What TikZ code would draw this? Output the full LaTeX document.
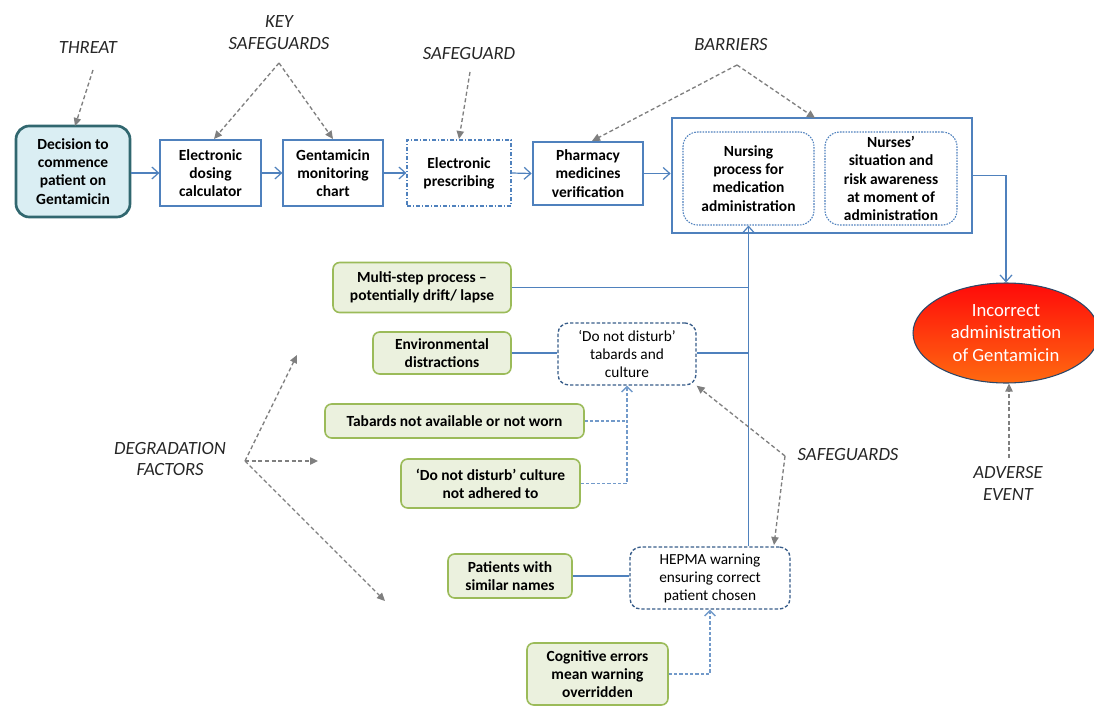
\documentclass[tikz,border=0pt]{standalone}
\usepackage{fontspec}
\setmainfont{Carlito}
\usetikzlibrary{arrows.meta,shapes.geometric,calc}
\definecolor{lblue}{HTML}{4F81BD}
\definecolor{dblue}{HTML}{385D8A}
\definecolor{gbord}{HTML}{9BBB59}
\definecolor{gfill}{HTML}{EBF1DE}
\definecolor{tealb}{HTML}{31676F}
\definecolor{tfill}{HTML}{DAEEF3}
\definecolor{anno}{HTML}{7F7F7F}
\definecolor{labtxt}{HTML}{262626}
\definecolor{ired}{HTML}{FF0A0A}
\definecolor{iorange}{HTML}{FF6A10}
\begin{document}
\begin{tikzpicture}[x=0.75pt,y=-0.75pt,
  sz/.style 2 args={minimum width=#1*0.75pt, minimum height=#2*0.75pt},
  bfont/.style={font=\bfseries\fontsize{11.6}{13.6}\selectfont},
  rfont/.style={font=\fontsize{11.5}{13.5}\selectfont},
  bx/.style={draw=lblue, line width=0.9pt, align=center, inner sep=2pt, fill=white, bfont},
  thickbx/.style={bx, line width=2pt},
  dashdotbx/.style={bx, dash pattern=on 3pt off 1.5pt on 0.8pt off 1.5pt},
  innerbx/.style={draw=lblue, line width=0.8pt, dash pattern=on 1.2pt off 0.9pt, rounded corners=11pt, align=center, inner sep=2pt, bfont},
  sgbx/.style={draw=dblue, line width=1pt, dash pattern=on 2.5pt off 1.5pt, rounded corners=8pt, align=center, inner sep=2pt, fill=white, rfont},
  gbx/.style={draw=gbord, line width=1.2pt, fill=gfill, rounded corners=5pt, align=center, inner sep=2pt, bfont},
  decbx/.style={draw=tealb, fill=tfill, line width=2pt, rounded corners=10pt, align=center, inner sep=2pt, bfont},
  lab/.style={font=\itshape\fontsize{14}{16.5}\selectfont, text=labtxt, align=center, inner sep=1pt},
  conn/.style={draw=lblue, line width=0.9pt},
  carrow/.style={conn, -{Straight Barb[length=5pt,width=9pt,line width=0.9pt]}},
  dconn/.style={draw=lblue!80, line width=1pt, dash pattern=on 2.5pt off 1.5pt},
  darrow/.style={dconn, -{Straight Barb[length=4pt,width=8pt,line width=1pt]}},
  ann/.style={draw=anno, line width=1pt, dash pattern=on 3pt off 2pt, -{Triangle[length=6pt,width=5.5pt]}},
]
\useasboundingbox (0,0) rectangle (1094,706);

% top row
\node[decbx, sz={114}{91}] (dec) at (73,171.5) {Decision to\\commence\\patient on\\Gentamicin};
\node[bx, sz={101}{66}] (calc) at (210.5,173) {Electronic\\dosing\\calculator};
\node[bx, sz={100}{66}] (chart) at (333,173) {Gentamicin\\monitoring\\chart};
\node[dashdotbx, sz={104}{66}] (epres) at (459,173) {Electronic\\prescribing};
\node[thickbx, sz={110}{63}] (pharm) at (588,173.5) {Pharmacy\\medicines\\verification};
\node[thickbx, sz={300}{115}] (big) at (822,175.5) {};
\node[innerbx, sz={131}{93}] (nurs) at (748.5,178.5) {Nursing\\process for\\medication\\administration};
\node[innerbx, sz={132}{93}] (aware) at (891,178.5) {Nurses'\\situation and\\risk awareness\\at moment of\\administration};

% adverse event
\node[ellipse, draw=black!45!lblue, line width=0.8pt, top color=ired, bottom color=iorange, sz={186}{100}, align=center, text=white, font=\fontsize{14}{17}\selectfont, inner sep=0pt] (inc) at (1006,333) {Incorrect\\administration\\of Gentamicin};

% degradation / safeguards
\node[gbx, sz={178}{50}] (multi) at (422,287.5) {Multi-step process –\\potentially drift/ lapse};
\node[gbx, sz={138}{42}] (env) at (442,353) {Environmental\\distractions};
\node[sgbx, sz={138}{62}] (dnd) at (627,354) {‘Do not disturb’\\tabards and\\culture};
\node[gbx, sz={259}{34}] (tab) at (454.5,421) {Tabards not available or not worn};
\node[gbx, sz={179}{49}] (cult) at (490.5,483.5) {‘Do not disturb’ culture\\not adhered to};
\node[gbx, sz={124}{44}] (pat) at (510,576) {Patients with\\similar names};
\node[sgbx, sz={160}{62}] (hepma) at (710,578) {HEPMA warning\\ensuring correct\\patient chosen};
\node[gbx, sz={141}{62}] (cog) at (597.5,674) {Cognitive errors\\mean warning\\overridden};

% main flow
\draw[carrow] (dec.east |- calc.west) -- (calc.west);
\draw[carrow] (calc.east) -- (chart.west);
\draw[carrow] (chart.east) -- (epres.west);
\draw[carrow] (epres.east) -- (pharm.west);
\draw[carrow] (pharm.east) -- (big.west |- pharm.east);
\draw[carrow] (big.east) -| (inc.north);

% lines to nursing
\draw[carrow] (hepma.north -| nurs.south) -- (nurs.south);
\draw[conn] (multi.east) -- (multi.east -| nurs.south);
\draw[conn] (env.east) -- (dnd.west |- env.east);
\draw[conn] (dnd.east |- env.east) -- (env.east -| nurs.south);
\draw[conn] (pat.east) -- (hepma.west |- pat.east);

% dashed degradation links
\draw[dconn] (tab.east) -- (tab.east -| dnd.south);
\draw[darrow] (cult.east) -| (dnd.south);
\draw[darrow] (cog.east) -| (hepma.south);

% labels and annotation arrows
\node[lab] (threat) at (88,48) {THREAT};
\coordinate (threatA) at (93,70);
\draw[ann] (threatA) -- (75,126) coordinate (threatB);

\node[lab] (keysg) at (279,33) {KEY\\SAFEGUARDS};
\coordinate (keyA) at (279,63);
\draw[ann] (keyA) -- (214,139);
\draw[ann] (keyA) -- (333,139);

\node[lab] (sg) at (469,54) {SAFEGUARD};
\coordinate (sgA) at (470,72);
\draw[ann] (sgA) -- (459,139);

\node[lab] (bar) at (731,45) {BARRIERS};
\coordinate (barA) at (737,65);
\draw[ann] (barA) -- (592,141);
\draw[ann] (barA) -- (815,118);

\node[lab] (deg) at (170,459) {DEGRADATION\\FACTORS};
\coordinate (degA) at (245,461);
\draw[ann] (degA) -- (297,355);
\draw[ann] (degA) -- (318,461);
\draw[ann] (degA) -- (385,601);

\node[lab] (sgs) at (848,455) {SAFEGUARDS};
\coordinate (sgsA) at (785,456);
\draw[ann] (sgsA) -- (dnd.south east);
\draw[ann] (sgsA) -- (774,545);

\node[lab] (adv) at (1008,483) {ADVERSE\\EVENT};
\coordinate (advA) at (1009,458);
\draw[ann] (advA) -- (inc.south -| advA);
\end{tikzpicture}
\end{document}
